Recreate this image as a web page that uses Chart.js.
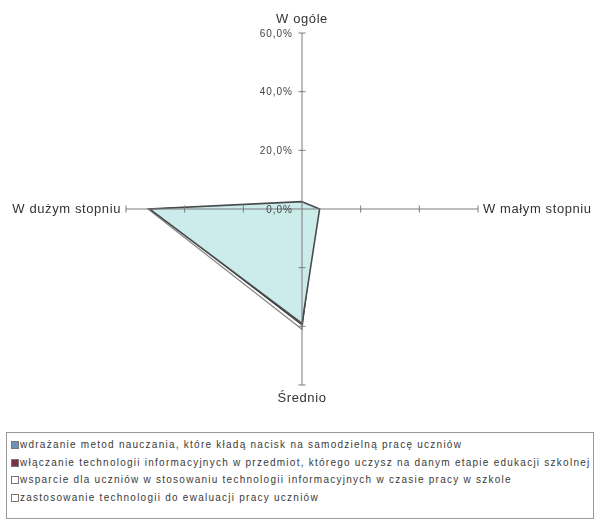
<!DOCTYPE html>
<html>
<head>
<meta charset="utf-8">
<script src="https://cdn.jsdelivr.net/npm/chart.js@4/dist/chart.umd.min.js"></script>
<style>
  html, body { margin: 0; padding: 0; background: #fff; }
  #wrap { position: relative; width: 596px; height: 522px; }
  #c { position: absolute; left: 0; top: 0; }
  #legend {
    position: absolute; left: 6px; top: 432px; width: 588px; height: 87px;
    border: 1px solid #9a9a9a; box-sizing: border-box;
    font-family: "Liberation Sans", Arial, sans-serif; font-size: 10px; color: #3a3a3a;
    letter-spacing: 1.25px;
    padding: 3px 0 0 4px;
  }
  .item { height: 17.5px; line-height: 17.5px; white-space: nowrap; }
  .sw { display: inline-block; width: 6px; height: 6px; border: 1px solid #777; margin-right: 1px; vertical-align: -1px; }
</style>
</head>
<body>
<div id="wrap">
  <canvas id="c" width="596" height="430"></canvas>
  <div id="legend"></div>
</div>
<script>
// Axis categories (clockwise from the top)
const categories = ['W ogóle', 'W małym stopniu', 'Średnio', 'W dużym stopniu'];

// Series names
const seriesNames = [
  'wdrażanie metod nauczania, które kładą nacisk na samodzielną pracę uczniów',
  'włączanie technologii informacyjnych w przedmiot, którego uczysz na danym etapie edukacji szkolnej',
  'wsparcie dla uczniów w stosowaniu technologii informacyjnych w czasie pracy w szkole',
  'zastosowanie technologii do ewaluacji pracy uczniów'
];

// Percent values per series, in category order
const metodyValues = [2.5, 6.0, 39.0, 52.0];
const wlaczanieValues = [2.0, 5.5, 39.5, 51.5];
const wsparcieValues = [1.5, 5.0, 41.0, 52.5];
const ewaluacjaValues = [2.0, 5.0, 40.5, 51.0];

// Radial tick values
const tickValues = [0, 20, 40, 60];

const fillColors = ['rgb(204,236,236)', 'rgba(0,0,0,0)', '#ffffff', '#ffffff'];
const lineColors = ['#4a4a4a', '#2e2e2e', '#8a8a8a', '#9a9a9a'];
const legendColors = ['#6f93b8', '#7a3242', '#ffffff', '#ffffff'];

const fmt = v => v.toFixed(1).replace('.', ',') + '%';
const FONT = '"Liberation Sans", Arial, sans-serif';

// Axes, tick marks and labels drawn on top of the filled areas
const axisPlugin = {
  id: 'axisOverlay',
  afterDatasetsDraw(chart) {
    const s = chart.scales.r;
    const ctx = chart.ctx;
    const max = tickValues[tickValues.length - 1];
    ctx.save();
    ctx.strokeStyle = '#7a7a7a';
    ctx.lineWidth = 1;
    for (let i = 0; i < categories.length; i++) {
      const end = s.getPointPositionForValue(i, max);
      ctx.beginPath();
      ctx.moveTo(s.xCenter, s.yCenter);
      ctx.lineTo(end.x, end.y);
      ctx.stroke();
      const ang = end.angle;
      const px = -Math.sin(ang), py = Math.cos(ang);
      for (const v of tickValues) {
        if (v === 0) continue;
        const p = s.getPointPositionForValue(i, v);
        ctx.beginPath();
        ctx.moveTo(p.x - px * 3.5, p.y - py * 3.5);
        ctx.lineTo(p.x + px * 3.5, p.y + py * 3.5);
        ctx.stroke();
      }
    }
    // tick labels along the first axis
    ctx.fillStyle = '#444';
    ctx.font = '10px ' + FONT;
    ctx.letterSpacing = '1px';
    ctx.textAlign = 'right';
    ctx.textBaseline = 'middle';
    for (const v of tickValues) {
      const p = s.getPointPositionForValue(0, v);
      ctx.fillText(fmt(v), p.x - 9, p.y + 1);
    }
    // category labels at the ends of the axes
    ctx.font = '13px ' + FONT;
    ctx.letterSpacing = '0.6px';
    ctx.fillStyle = '#333';
    const off = 5;
    categories.forEach((lab, i) => {
      const p = s.getPointPositionForValue(i, max);
      if (i === 0) { ctx.textAlign = 'center'; ctx.textBaseline = 'bottom'; ctx.fillText(lab, p.x, p.y - 7); }
      else if (i === 1) { ctx.textAlign = 'left'; ctx.textBaseline = 'middle'; ctx.fillText(lab, p.x + off, p.y); }
      else if (i === 2) { ctx.textAlign = 'center'; ctx.textBaseline = 'top'; ctx.fillText(lab, p.x, p.y + 7); }
      else { ctx.textAlign = 'right'; ctx.textBaseline = 'middle'; ctx.fillText(lab, p.x - off, p.y); }
    });
    ctx.restore();
  }
};

const seriesValues = [metodyValues, wlaczanieValues, wsparcieValues, ewaluacjaValues];

new Chart(document.getElementById('c'), {
  type: 'radar',
  data: {
    labels: categories,
    datasets: seriesValues.map((vals, i) => ({
      label: seriesNames[i],
      data: vals,
      fill: true,
      backgroundColor: fillColors[i],
      borderColor: lineColors[i],
      borderWidth: i === 0 ? 1.6 : 1.2,
      pointRadius: 0,
      pointHoverRadius: 0
    }))
  },
  options: {
    responsive: false,
    animation: false,
    layout: { padding: { left: 8, right: 0, top: 33, bottom: 45 } },
    plugins: { legend: { display: false }, tooltip: { enabled: false } },
    elements: { line: { tension: 0 } },
    scales: {
      r: {
        min: 0,
        max: 60,
        ticks: { display: false, stepSize: 20 },
        grid: { display: false },
        angleLines: { display: false },
        pointLabels: { display: false }
      }
    }
  },
  plugins: [axisPlugin]
});

// Legend built from the series arrays
const legend = document.getElementById('legend');
seriesNames.forEach((name, i) => {
  const row = document.createElement('div');
  row.className = 'item';
  const sw = document.createElement('span');
  sw.className = 'sw';
  sw.style.background = legendColors[i];
  row.appendChild(sw);
  row.appendChild(document.createTextNode(name));
  legend.appendChild(row);
});
</script>
</body>
</html>
